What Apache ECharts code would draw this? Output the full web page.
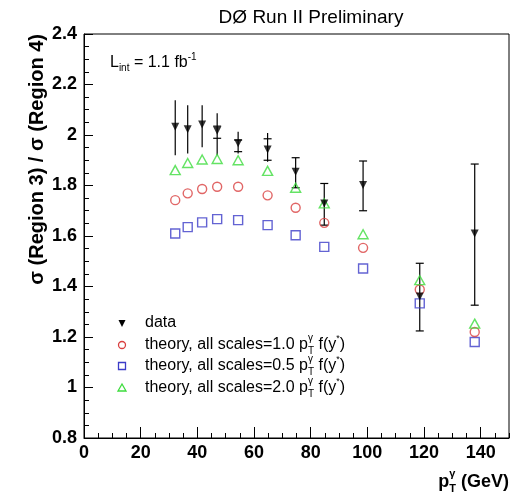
<!DOCTYPE html>
<html>
<head>
<meta charset="utf-8">
<script src="https://cdn.jsdelivr.net/npm/echarts@6/dist/echarts.min.js"></script>
<style>
  html, body { margin: 0; padding: 0; background: #fff; }
  #chart { width: 524px; height: 496px; }
</style>
</head>
<body>
<div id="chart"></div>
<script>
// Photon pT bin centres (GeV)
const ptBins = [32.2, 36.6, 41.7, 47.0, 54.4, 64.8, 74.7, 84.8, 98.5, 118.5, 137.9];

// Measured ratio sigma(Region 3) / sigma(Region 4)
const dataRatio  = [2.033, 2.023, 2.042, 2.017, 1.967, 1.943, 1.854, 1.729, 1.802, 1.360, 1.610];
// Total uncertainty band edges
const dataTotHi  = [2.138, 2.118, 2.118, 2.086, 2.013, 2.008, 1.910, 1.808, 1.897, 1.492, 1.885];
const dataTotLo  = [1.920, 1.927, 1.951, 1.920, 1.927, 1.894, 1.791, 1.643, 1.700, 1.224, 1.326];
// Statistical uncertainty edges (drawn as caps; hidden under the marker when tiny)
const dataStatHi = [null, null, null, 2.035, 1.980, 1.985, 1.910, 1.808, 1.897, 1.492, 1.885];
const dataStatLo = [null, null, null, 1.987, 1.934, 1.900, 1.791, 1.643, 1.700, 1.224, 1.326];

// NLO theory predictions for three scale choices
const theoryScale10 = [1.742, 1.769, 1.786, 1.795, 1.795, 1.761, 1.712, 1.652, 1.553, 1.388, 1.220];
const theoryScale05 = [1.610, 1.635, 1.654, 1.667, 1.663, 1.643, 1.603, 1.557, 1.471, 1.333, 1.180];
const theoryScale20 = [1.861, 1.889, 1.903, 1.905, 1.900, 1.858, 1.791, 1.729, 1.607, 1.425, 1.253];

// Axis ranges
const xRange = [0, 150];
const yRange = [0.8, 2.4];

const FONT = '"Liberation Sans", Arial, Helvetica, sans-serif';
const RED = '#d94040', BLUE = '#3c3cc8', GREEN = '#3ddc3d';

// ---- helpers for composed text with sub/superscripts ----
const measureCtx = document.createElement('canvas').getContext('2d');
function textWidth(t, size, weight) {
  measureCtx.font = (weight || 'normal') + ' ' + size + 'px ' + FONT;
  return measureCtx.measureText(t).width;
}
function txt(x, y, t, size, weight) {
  return {
    type: 'text', x: x, y: y, silent: true,
    style: { text: t, fontSize: size, fontWeight: weight || 'normal', fontFamily: FONT,
             fill: '#000', align: 'left', verticalAlign: 'middle' }
  };
}
function partWidth(p) {
  if (p.t !== undefined) return textWidth(p.t, p.size, p.weight);
  return Math.max(textWidth(p.sup, p.size, p.weight), textWidth(p.sub, p.size, p.weight));
}
function composed(x, y, parts, alignRight) {
  let cx = x;
  if (alignRight) cx = x - parts.reduce((s, p) => s + partWidth(p), 0);
  const els = [];
  parts.forEach(p => {
    if (p.t !== undefined) {
      els.push(txt(cx, y + (p.dy || 0), p.t, p.size, p.weight));
    } else {
      els.push(txt(cx, y + p.supDy, p.sup, p.size, p.weight));
      els.push(txt(cx, y + p.subDy, p.sub, p.size, p.weight));
    }
    cx += partWidth(p);
  });
  return els;
}
function theoryLabel(scale) {
  return [
    { t: 'theory, all scales=' + scale + ' p', size: 16 },
    { sup: '\u03b3', sub: 'T', size: 10, supDy: -7, subDy: 6 },
    { t: ' f(y', size: 16 },
    { t: '*', size: 9, dy: -6 },
    { t: ')', size: 16 }
  ];
}

// ---- graphic overlay: title, luminosity, legend, axis titles ----
const graphics = [];
graphics.push({
  type: 'text', x: 311, y: 18, silent: true,
  style: { text: 'D\u00d8 Run II Preliminary', fontSize: 19, fontFamily: FONT, fill: '#000',
           align: 'center', verticalAlign: 'middle' }
});
graphics.push(...composed(110, 63, [
  { t: 'L', size: 16 },
  { t: 'int', size: 10, dy: 5 },
  { t: ' = 1.1 fb', size: 16 },
  { t: '-1', size: 10, dy: -6 }
]));
// y-axis title, right-aligned to the top of the axis
graphics.push({
  type: 'text', x: 37, y: 34, rotation: Math.PI / 2, silent: true,
  style: { text: '\u03c3 (Region 3) / \u03c3 (Region 4)', fontSize: 20, fontWeight: 'bold',
           fontFamily: FONT, fill: '#000', align: 'right', verticalAlign: 'middle' }
});
// x-axis title, right-aligned to the end of the axis
graphics.push(...composed(509, 482, [
  { t: 'p', size: 18, weight: 'bold' },
  { sup: '\u03b3', sub: 'T', size: 11, weight: 'bold', supDy: -8, subDy: 7 },
  { t: ' (GeV)', size: 18, weight: 'bold' }
], true));

// legend
const legX = 122, legTextX = 145;
const legRows = [323, 345, 366, 388];
graphics.push({
  type: 'polygon', silent: true,
  shape: { points: [[legX - 3.5, legRows[0] - 3], [legX + 3.5, legRows[0] - 3], [legX, legRows[0] + 4]] },
  style: { fill: '#000' }
});
graphics.push(txt(legTextX, legRows[0], 'data', 16));
graphics.push({
  type: 'circle', silent: true, shape: { cx: legX, cy: legRows[1], r: 3.5 },
  style: { fill: 'none', stroke: RED, lineWidth: 1.3 }
});
graphics.push(...composed(legTextX, legRows[1], theoryLabel('1.0')));
graphics.push({
  type: 'rect', silent: true, shape: { x: legX - 3.5, y: legRows[2] - 3.5, width: 7, height: 7 },
  style: { fill: 'none', stroke: BLUE, lineWidth: 1.3 }
});
graphics.push(...composed(legTextX, legRows[2], theoryLabel('0.5')));
graphics.push({
  type: 'polygon', silent: true,
  shape: { points: [[legX, legRows[3] - 4], [legX + 4, legRows[3] + 3], [legX - 4, legRows[3] + 3]] },
  style: { fill: 'none', stroke: GREEN, lineWidth: 1.3 }
});
graphics.push(...composed(legTextX, legRows[3], theoryLabel('2.0')));

// ---- series data built from the arrays ----
const errData = ptBins.map((x, i) => [x, dataTotHi[i], dataTotLo[i]]);
const zip = arr => ptBins.map((x, i) => [x, arr[i]]);

const chart = echarts.init(document.getElementById('chart'), null, { renderer: 'canvas' });

const tickLabel = { color: '#000', fontWeight: 'bold', fontSize: 18, fontFamily: FONT };

chart.setOption({
  animation: false,
  backgroundColor: '#fff',
  grid: { left: 84, right: 15, top: 34, bottom: 58, show: true, borderColor: '#000', borderWidth: 1,
          backgroundColor: 'transparent' },
  xAxis: [
    {
      type: 'value', min: xRange[0], max: xRange[1], interval: 20, position: 'bottom',
      axisLine: { show: true, lineStyle: { color: '#000', width: 1 } },
      axisTick: { show: true, inside: true, length: 11, lineStyle: { color: '#000', width: 1 } },
      axisLabel: Object.assign({ margin: 6, showMaxLabel: false }, tickLabel),
      splitLine: { show: false }
    },
    {
      type: 'value', min: xRange[0], max: xRange[1], interval: 5, position: 'bottom',
      axisLine: { show: false },
      axisTick: { show: true, inside: true, length: 5, lineStyle: { color: '#000', width: 1 } },
      axisLabel: { show: false },
      splitLine: { show: false }
    }
  ],
  yAxis: {
    type: 'value', min: yRange[0], max: yRange[1], interval: 0.2,
    axisLine: { show: true, lineStyle: { color: '#000', width: 1 } },
    axisTick: { show: true, inside: true, length: 9, lineStyle: { color: '#000', width: 1 } },
    minorTick: { show: true, splitNumber: 4, length: 5, lineStyle: { color: '#000', width: 1 } },
    axisLabel: Object.assign({ margin: 7 }, tickLabel),
    splitLine: { show: false }
  },
  graphic: graphics,
  series: [
    {
      name: 'data errors', type: 'custom', xAxisIndex: 0, z: 3,
      data: errData,
      renderItem: function (params, api) {
        const i = params.dataIndex;
        const x = api.value(0);
        const top = api.coord([x, api.value(1)]);
        const bot = api.coord([x, api.value(2)]);
        const children = [{
          type: 'line',
          shape: { x1: top[0], y1: top[1], x2: bot[0], y2: bot[1] },
          style: { stroke: '#000', lineWidth: 1.2 }
        }];
        [dataStatHi[i], dataStatLo[i]].forEach(v => {
          if (v === null) return;
          const p = api.coord([x, v]);
          children.push({
            type: 'line',
            shape: { x1: p[0] - 4, y1: p[1], x2: p[0] + 4, y2: p[1] },
            style: { stroke: '#000', lineWidth: 1.2 }
          });
        });
        return { type: 'group', children: children };
      }
    },
    {
      name: 'theory 0.5', type: 'scatter', z: 4, data: zip(theoryScale05),
      symbol: 'rect', symbolSize: 9,
      itemStyle: { color: 'rgba(0,0,0,0)', borderColor: BLUE, borderWidth: 1.4 }
    },
    {
      name: 'theory 1.0', type: 'scatter', z: 4, data: zip(theoryScale10),
      symbol: 'circle', symbolSize: 9,
      itemStyle: { color: 'rgba(0,0,0,0)', borderColor: RED, borderWidth: 1.4 }
    },
    {
      name: 'theory 2.0', type: 'scatter', z: 4, data: zip(theoryScale20),
      symbol: 'triangle', symbolSize: [10, 9],
      itemStyle: { color: 'rgba(0,0,0,0)', borderColor: GREEN, borderWidth: 1.4 }
    },
    {
      name: 'data', type: 'scatter', z: 5, data: zip(dataRatio),
      symbol: 'triangle', symbolRotate: 180, symbolSize: [8, 8],
      itemStyle: { color: '#000' }
    }
  ]
});
</script>
</body>
</html>
